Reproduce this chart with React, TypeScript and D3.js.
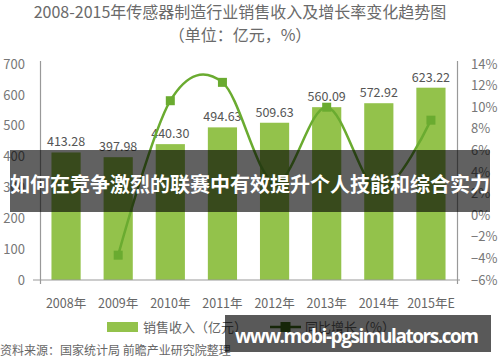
import React, { useEffect, useRef } from 'react';
import * as d3 from 'd3';

const years = ['2008年', '2009年', '2010年', '2011年', '2012年', '2013年', '2014年', '2015年E'];
const sales = [413.28, 397.98, 440.3, 494.63, 509.63, 560.09, 572.92, 623.22];
// growth starts in 2009 (no value for 2008)
const growth: (number | null)[] = [null, -3.7, 10.6, 12.3, 3.0, 10.0, 2.3, 8.8];
const leftTicks = [0, 100, 200, 300, 400, 500, 600, 700];
const rightTicks = [-6, -4, -2, 0, 2, 4, 6, 8, 10, 12, 14];

const FONT = '"Noto Sans CJK SC", "Noto Sans", sans-serif';
const BAR = '#93c24b';
const LINE = '#6aab30';

const App = () => {
    const svgRef = useRef<SVGSVGElement>(null);

    useEffect(() => {
        const svg = d3.select(svgRef.current);
        svg.selectAll('*').remove();

        const x = d3.scaleBand<string>()
            .domain(years)
            .range([40, 457])
            .paddingInner(0.44)
            .paddingOuter(0.22);

        const yL = d3.scaleLinear().domain([0, 700]).range([280, 64]);
        const yR = d3.scaleLinear().domain([-6, 14]).range([280, 64]);

        //title
        svg.append('text')
            .attr('x', 240).attr('y', 12).attr('dy', '0.36em')
            .attr('text-anchor', 'middle')
            .attr('font-size', 16).attr('fill', '#6a6a6a')
            .text('2008-2015年传感器制造行业销售收入及增长率变化趋势图');
        svg.append('text')
            .attr('x', 240).attr('y', 35).attr('dy', '0.36em')
            .attr('text-anchor', 'middle')
            .attr('font-size', 16).attr('fill', '#6a6a6a')
            .text('（单位：亿元，%）');

        //bars
        svg.selectAll('.bar')
            .data(sales)
            .enter().append('rect')
            .attr('class', 'bar')
            .attr('x', (d, i) => x(years[i])!)
            .attr('y', d => yL(d))
            .attr('width', x.bandwidth())
            .attr('height', d => yL(0) - yL(d))
            .attr('fill', BAR);

        //bar labels
        svg.selectAll('.blabel')
            .data(sales)
            .enter().append('text')
            .attr('class', 'blabel')
            .attr('x', (d, i) => x(years[i])! + x.bandwidth() / 2)
            .attr('y', d => yL(d) - 6)
            .attr('text-anchor', 'middle')
            .attr('font-size', 12.5).attr('fill', '#555')
            .text(d => d.toFixed(2));

        //axes lines
        svg.append('line')
            .attr('x1', 33).attr('x2', 460).attr('y1', 280).attr('y2', 280)
            .attr('stroke', '#999').attr('stroke-width', 1.2);
        svg.append('line')
            .attr('x1', 40.5).attr('x2', 40.5).attr('y1', 61).attr('y2', 284)
            .attr('stroke', '#999').attr('stroke-width', 1.2);
        svg.append('line')
            .attr('x1', 457.5).attr('x2', 457.5).attr('y1', 61).attr('y2', 284)
            .attr('stroke', '#999').attr('stroke-width', 1.2);

        //left ticks
        svg.selectAll('.lt')
            .data(leftTicks)
            .enter().append('text')
            .attr('class', 'lt')
            .attr('x', 25).attr('y', d => yL(d)).attr('dy', '0.36em')
            .attr('text-anchor', 'end')
            .attr('font-size', 13).attr('fill', '#777')
            .text(d => d);

        //right ticks
        svg.selectAll('.rt')
            .data(rightTicks)
            .enter().append('text')
            .attr('class', 'rt')
            .attr('x', 471).attr('y', d => yR(d)).attr('dy', '0.36em')
            .attr('font-size', 13).attr('fill', '#777')
            .text(d => (d < 0 ? '−' + Math.abs(d) : d) + '%');

        //x labels
        svg.selectAll('.xl')
            .data(years)
            .enter().append('text')
            .attr('class', 'xl')
            .attr('x', d => x(d)! + x.bandwidth() / 2)
            .attr('y', 303).attr('dy', '0.36em')
            .attr('text-anchor', 'middle')
            .attr('font-size', 12.5).attr('fill', '#666')
            .text(d => d);

        //growth line
        const pts = growth
            .map((g, i) => ({ year: years[i], g }))
            .filter(d => d.g !== null) as { year: string; g: number }[];

        const line = d3.line<{ year: string; g: number }>()
            .x(d => x(d.year)! + x.bandwidth() / 2)
            .y(d => yR(d.g))
            .curve(d3.curveCardinal.tension(0));

        svg.append('path')
            .datum(pts)
            .attr('fill', 'none')
            .attr('stroke', LINE)
            .attr('stroke-width', 2.5)
            .attr('d', line);

        svg.selectAll('.dot')
            .data(pts)
            .enter().append('rect')
            .attr('class', 'dot')
            .attr('x', d => x(d.year)! + x.bandwidth() / 2 - 4.5)
            .attr('y', d => yR(d.g) - 4.5)
            .attr('width', 9).attr('height', 9)
            .attr('fill', LINE);

        //legend
        svg.append('rect')
            .attr('x', 107).attr('y', 322).attr('width', 31).attr('height', 10)
            .attr('fill', BAR);
        svg.append('text')
            .attr('x', 143).attr('y', 327).attr('dy', '0.36em')
            .attr('font-size', 13).attr('fill', '#666')
            .text('销售收入（亿元）');
        svg.append('line')
            .attr('x1', 270).attr('x2', 301).attr('y1', 327).attr('y2', 327)
            .attr('stroke', '#3f6e1c').attr('stroke-width', 2.5);
        svg.append('rect')
            .attr('x', 280.5).attr('y', 322).attr('width', 10).attr('height', 10)
            .attr('fill', '#3f6e1c');
        svg.append('text')
            .attr('x', 305).attr('y', 327).attr('dy', '0.36em')
            .attr('font-size', 13).attr('fill', '#666')
            .text('同比增长（%）');

        //source
        svg.append('text')
            .attr('x', 0).attr('y', 351).attr('dy', '0.36em')
            .attr('font-size', 12).attr('fill', '#666')
            .text('资料来源：国家统计局 前瞻产业研究院整理');

        //banner overlay
        svg.append('rect')
            .attr('x', 10).attr('y', 150).attr('width', 480).attr('height', 62)
            .attr('fill', 'rgba(0,0,0,0.62)');
        svg.append('text')
            .attr('x', 250).attr('y', 185).attr('dy', '0.36em')
            .attr('text-anchor', 'middle')
            .attr('font-size', 20).attr('font-weight', 'bold').attr('fill', '#fff')
            .text('如何在竞争激烈的联赛中有效提升个人技能和综合实力');

        //watermark
        svg.append('rect')
            .attr('x', 225).attr('y', 315).attr('width', 266).attr('height', 37)
            .attr('fill', 'rgba(0,0,0,0.65)');
        svg.append('text')
            .attr('x', 357).attr('y', 336).attr('dy', '0.36em')
            .attr('text-anchor', 'middle')
            .attr('font-size', 19).attr('font-weight', 'bold').attr('fill', '#fff')
            .attr('font-family', '"Open Sans", "Noto Sans", sans-serif')
            .attr('textLength', 244)
            .text('www.mobi-pgsimulators.com');
    }, []);

    return (
        <svg
            ref={svgRef}
            width={500}
            height={362}
            style={{ position: 'absolute', left: 0, top: 0, background: '#fff', fontFamily: FONT }}
        />
    );
};

export default App;
